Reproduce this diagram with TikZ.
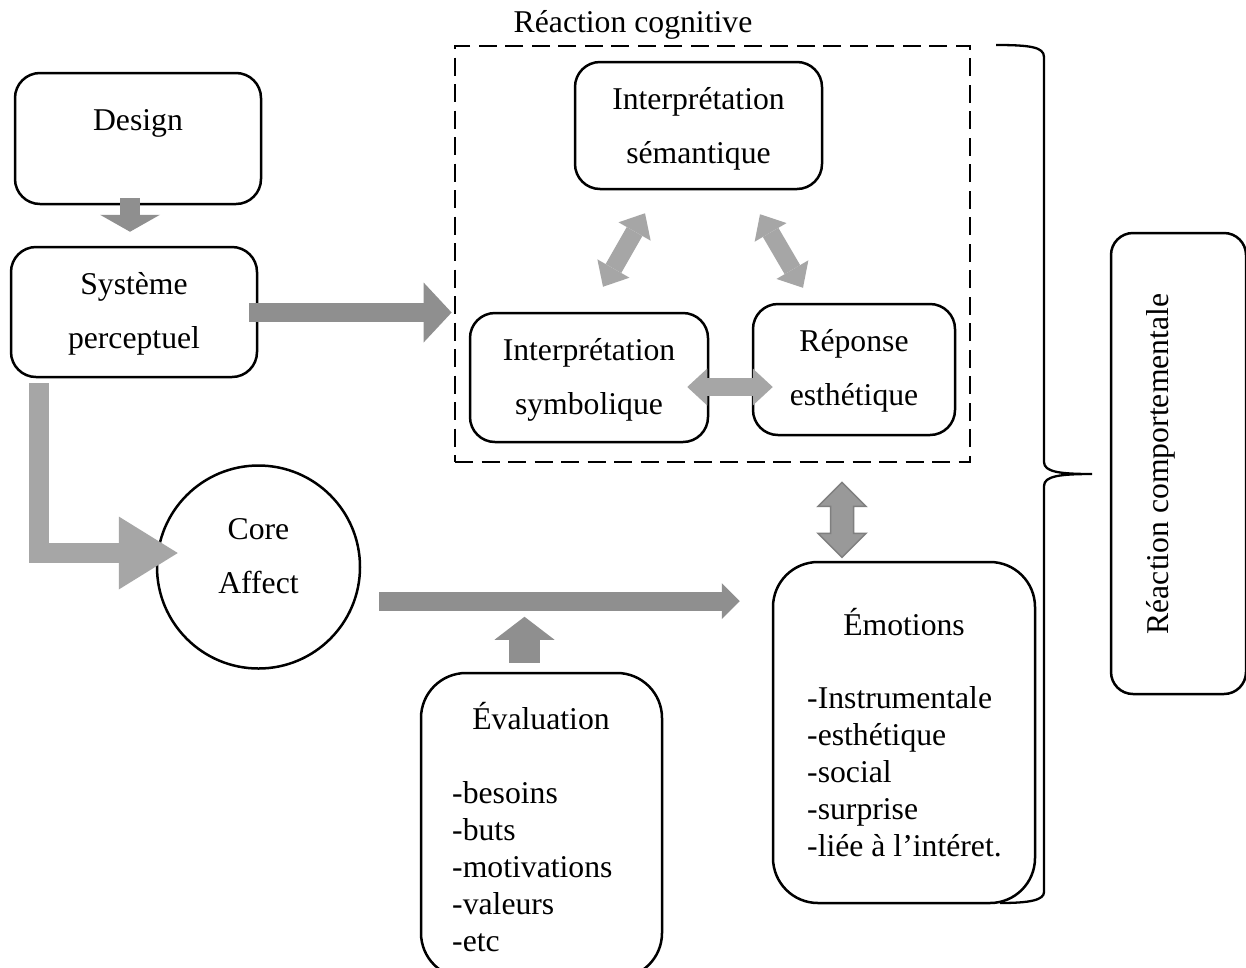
\documentclass[tikz,border=0pt]{standalone}
\usepackage{fontspec}
\setmainfont{Liberation Serif}
\usetikzlibrary{arrows.meta,calc}
\definecolor{garr}{HTML}{8F8F8F}
\definecolor{larr}{HTML}{A6A6A6}
\definecolor{darrfill}{HTML}{999999}
\definecolor{darrline}{HTML}{7F7F7F}
\begin{document}
\begin{tikzpicture}[x=1pt,y=-1pt,
  every node/.style={font=\fontsize{31.7pt}{37pt}\selectfont, inner sep=0pt},
  box/.style={draw, line width=2.5pt, rounded corners=#1, fill=white, rectangle},
  box/.default=25pt,
  two/.style={align=center, font=\fontsize{31.7pt}{54pt}\selectfont},
  lst/.style={align=left, anchor=west},
  blk/.style={line join=miter},
]
\clip (0,0) rectangle (1246,967);
\fill[white] (0,0) rectangle (1246,967);

% dashed group
\node[draw, dash pattern=on 18pt off 8.5pt, line width=2.8pt, minimum width=515pt, minimum height=416pt] (cog) at (712.5,254) {};
\node (cogtitle) at (633,25) {Réaction cognitive};

% boxes
\node[box, minimum width=246pt, minimum height=131pt] (design) at (138,138.5) {};
\node (designtxt) at (138,123) {Design};
\node[box, two, minimum width=246pt, minimum height=130pt] (sys) at (134,312) {};
\node[two] (systxt) at (134,314) {Système\\perceptuel};
\node[draw, line width=2.5pt, circle, minimum size=203pt] (core) at (258.5,567) {};
\node[two] (coretxt) at (258.5,556) {Core\\Affect};
\node[box, two, minimum width=247pt, minimum height=127pt] (sem) at (698.5,125.5) {};
\node[two] (semtxt) at (698.5,128.5) {Interprétation\\sémantique};
\node[box, two, minimum width=238pt, minimum height=129pt] (sym) at (589,377.5) {};
\node[two] (symtxt) at (589,379.5) {Interprétation\\symbolique};
\node[box, two, minimum width=202pt, minimum height=131pt] (res) at (854,369.5) {};
\node[two] (restxt) at (854,370.5) {Réponse\\esthétique};

\node[box=45pt, minimum width=262pt, minimum height=341pt] (emo) at (904,732.5) {};
\node (emotitle) at (904,622) {Émotions};
\node[lst] (emolist) at (807,771.5) {-Instrumentale\\-esthétique\\-social\\-surprise\\-liée à l’intéret.};

\node[box=45pt, minimum width=241pt, minimum height=305pt] (eval) at (541.5,825.5) {};
\node (evaltitle) at (541,716) {Évaluation};
\node[lst] (evallist) at (452,866.5) {-besoins\\-buts\\-motivations\\-valeurs\\-etc};

\node[box=22pt, minimum width=135pt, minimum height=461pt] (beh) at (1178.5,463.5) {};
\node[rotate=90] (behtxt) at (1161,464) {Réaction comportementale};

% block arrows
\draw[blk, garr, line width=20pt, -{Triangle[length=17pt,width=60pt,line width=0pt]}]
  ($(design.south)+(-8,-7)$) -- ($(sys.north)+(-4,-14)$);
\draw[blk, garr, line width=19pt, -{Triangle[length=28pt,width=60pt,line width=0pt]}]
  ($(sys.east)+(-9,0.5)$) -- ($(sys.east -| cog.west)+(-2,0.5)$);
\draw[blk, larr, line width=20pt, -{Triangle[length=59pt,width=73pt,line width=0pt]}]
  ($(sys.south west)+(29,5)$) |- ($(core.west)+(22,-14)$);
\draw[blk, garr, line width=19pt, -{Triangle[length=18pt,width=36pt,line width=0pt]}]
  ($(core.east)+(18,34)$) -- ($(core.east -| emo.west)+(-32,34)$);
\draw[blk, garr, line width=31pt, -{Triangle[length=23pt,width=60pt,line width=0pt]}]
  ($(eval.north)+(-17,-9)$) -- ($(eval.north)+(-17,-55)$);

% arrows inside the cognitive group
\draw[blk, larr, line width=18pt, {Triangle[length=21pt,width=37pt,line width=0pt]}-{Triangle[length=21pt,width=37pt,line width=0pt]}]
  ($(sym.north)+(14,-25)$) -- ($(sem.south)+(-53.5,23)$);
\draw[blk, larr, line width=18pt, {Triangle[length=21pt,width=37pt,line width=0pt]}-{Triangle[length=21pt,width=37pt,line width=0pt]}]
  ($(sem.south)+(61.5,24)$) -- ($(res.north)+(-51,-15)$);
\draw[blk, larr, line width=18pt, {Triangle[length=20pt,width=37pt,line width=0pt]}-{Triangle[length=20pt,width=37pt,line width=0pt]}]
  ($(sym.east)+(-22,9.5)$) -- ($(res.west)+(21,17.5)$);

% double arrow between cognitive group and emotions
\coordinate (dtop) at ($(cog.south)+(129.5,19)$);
\draw[fill=darrfill, draw=darrline, line width=1.5pt, line join=miter]
  (dtop) -- ++(24,24) -- ++(-12.5,0) -- ++(0,27) -- ++(12.5,0) -- ++(-24,24)
  -- ++(-24,-24) -- ++(12.5,0) -- ++(0,-27) -- ++(-12.5,0) -- cycle;

% brace
\draw[line width=2.3pt]
  (996,45) .. controls (1030,45) and (1044,47) .. (1044,57) -- (1044,462)
  .. controls (1044,472) and (1060,474) .. (1092,474)
  .. controls (1060,474) and (1044,476) .. (1044,486) -- (1044,892)
  .. controls (1044,900) and (1030,903) .. (1000,903);
\end{tikzpicture}
\end{document}
